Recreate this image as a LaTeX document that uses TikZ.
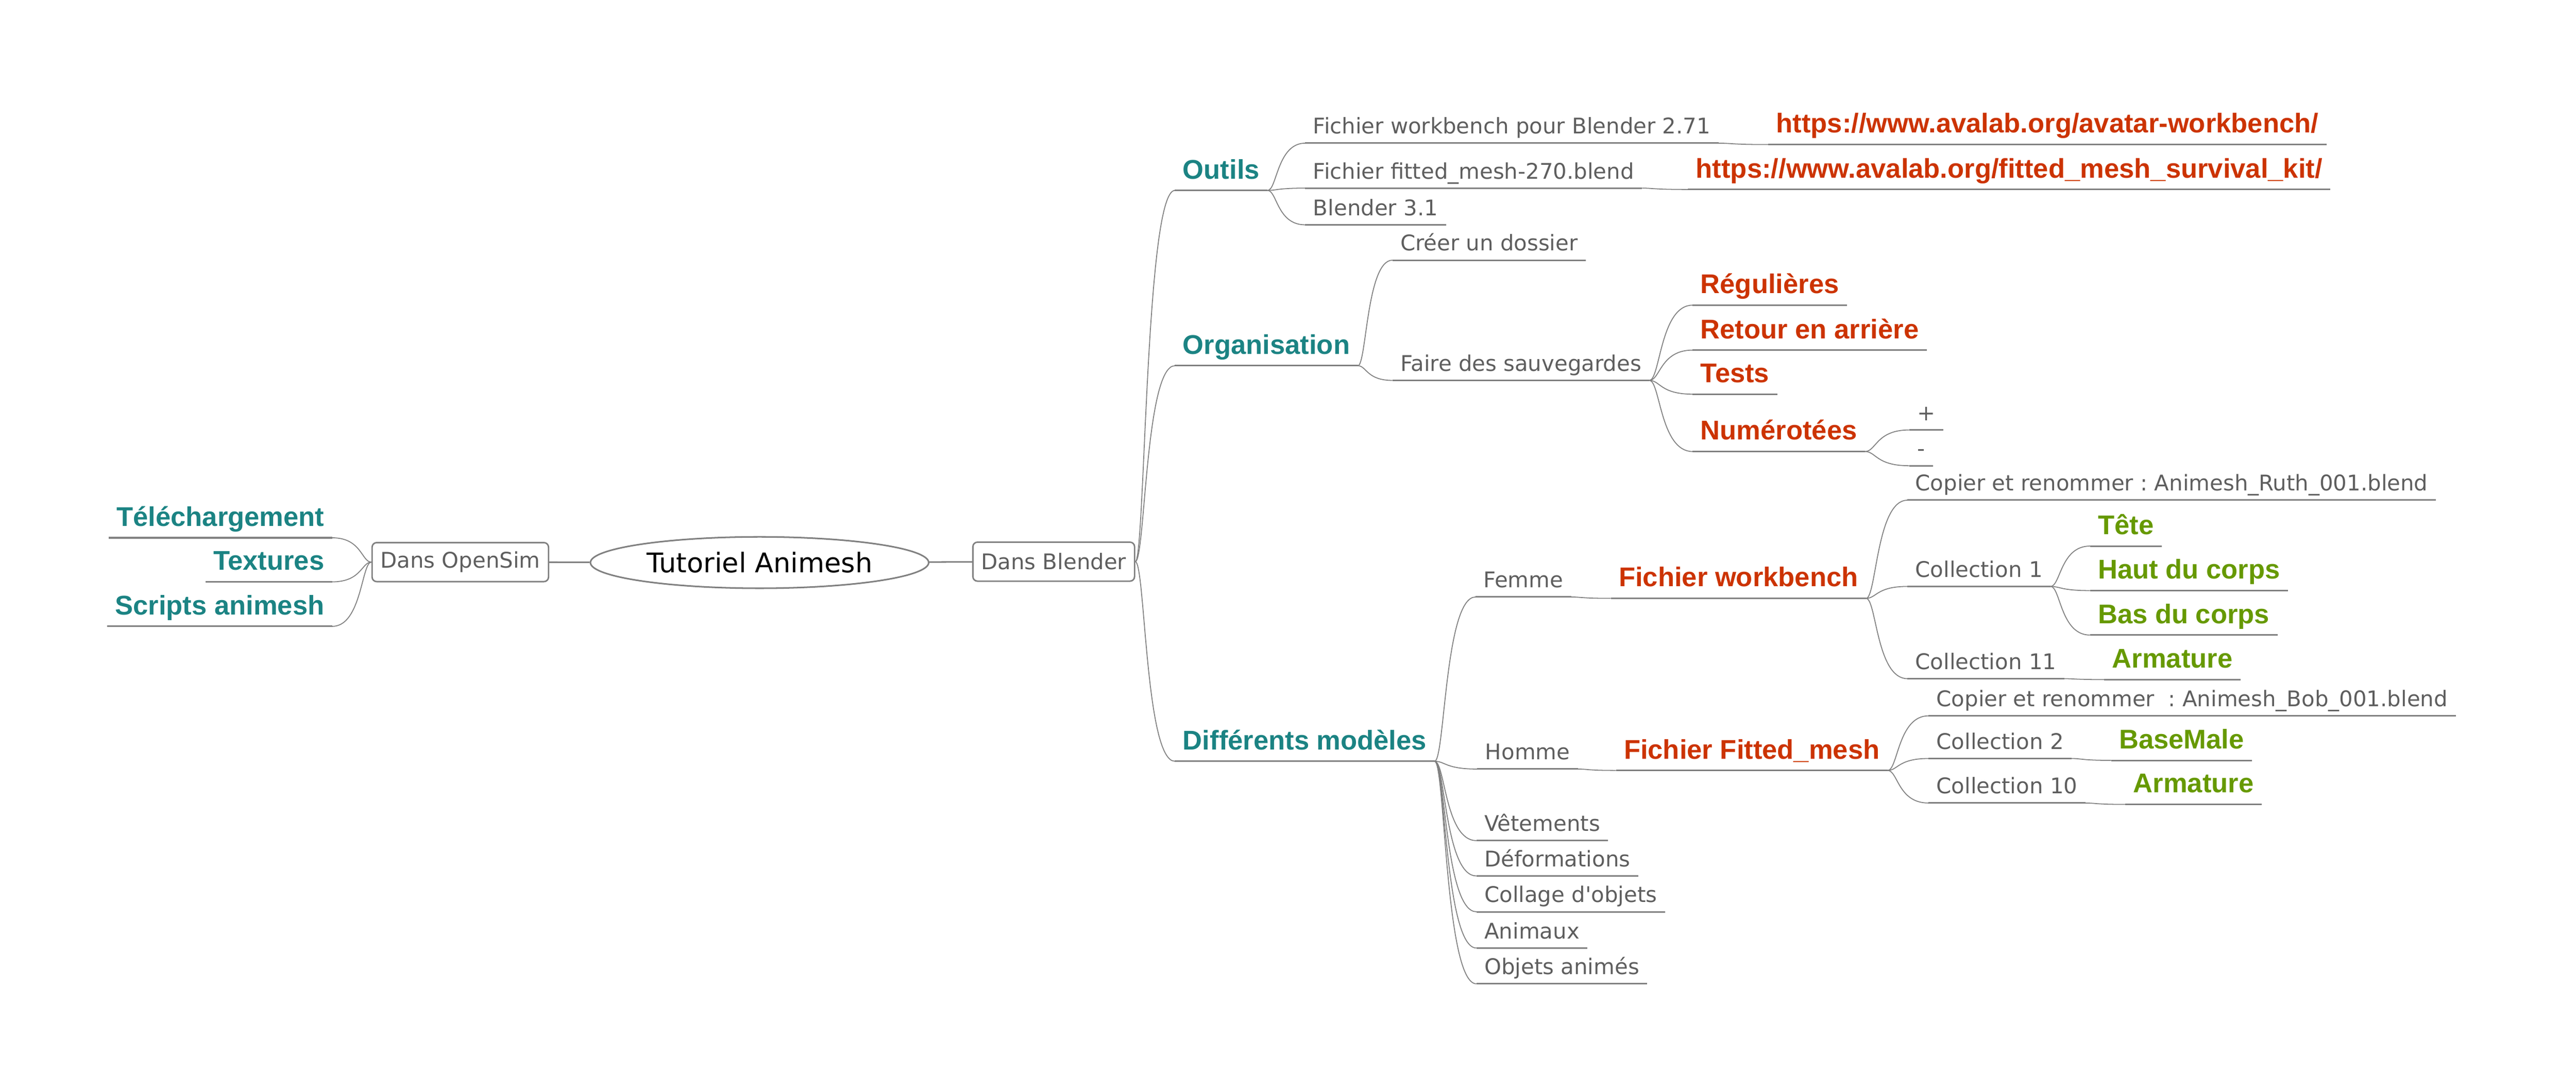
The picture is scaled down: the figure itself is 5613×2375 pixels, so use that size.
\documentclass[tikz,border=0pt]{standalone}
\usepackage{fontspec}
\setmainfont{DejaVu Sans}[Ligatures=TeXOff]
\newfontfamily\libsans{Liberation Sans}
\usetikzlibrary{calc,shapes.geometric}
\frenchspacing

\definecolor{linegray}{RGB}{128,128,128}
\definecolor{txtgray}{RGB}{94,94,94}
\definecolor{tealc}{RGB}{27,131,131}
\definecolor{redc}{RGB}{204,51,0}
\definecolor{greenc}{RGB}{102,153,0}

\tikzset{
  topic/.style={anchor=south west, inner xsep=8.5pt, inner ysep=10pt, text depth=0pt, text=txtgray, font=\fontsize{23.5}{28}\selectfont},
  boldsub/.style={topic, inner ysep=12.5pt, font=\libsans\bfseries\fontsize{29.5}{35}\selectfont},
  mainsub/.style={boldsub, text=tealc},
  redsub/.style={boldsub, text=redc},
  greensub/.style={boldsub, text=greenc},
  gbox/.style={draw=linegray, line width=1.6pt, rounded corners=5pt, minimum height=42.5pt, inner xsep=9pt, text=txtgray, font=\fontsize{23.5}{28}\selectfont},
  rootnode/.style={ellipse, draw=linegray, line width=1.7pt, minimum width=368.5pt, minimum height=56pt, inner sep=0pt, font=\fontsize{29.5}{35}\selectfont},
  uline/.style={draw=linegray, line width=1.7pt},
  link/.style={draw=linegray, line width=1.7pt},
  conn/.style={draw=linegray, line width=1pt},
  branch/.style={to path={.. controls ($(\tikztostart)!.25!(\tikztotarget|-\tikztostart)$) and ($(\tikztostart|-\tikztotarget)!.25!(\tikztotarget)$) .. (\tikztotarget)}}
}

\begin{document}
\begin{tikzpicture}[x=0.5pt,y=-0.5pt]
\useasboundingbox (0,0) rectangle (5613,2375);

\node [rootnode] (root) at (1655,1226) {Tutoriel Animesh};
\node [gbox] (opensim) at (1003,1225) {Dans OpenSim};
\node [gbox] (blender) at (2296,1224) {Dans Blender};

\node [mainsub, anchor=south east] (tele) at (724,1172) {Téléchargement};
\node [mainsub, anchor=south east] (tex) at (724,1268) {Textures};
\node [mainsub, anchor=south east] (scr) at (724,1365) {Scripts animesh};

\node [mainsub] (outils) at (2560,415) {Outils};
\node [mainsub] (org) at (2560,797) {Organisation};
\node [mainsub] (diff) at (2560,1659) {Différents modèles};

\node [topic] (owb) at (2844,312) {Fichier workbench pour Blender 2.71};
\node [redsub] (url1) at (3853,315) {https://www.avalab.org/avatar-workbench/};
\node [topic] (ofm) at (2844,410) {Fichier fitted\_mesh-270.blend};
\node [redsub] (url2) at (3678,413) {https://www.avalab.org/fitted\_mesh\_survival\_kit/};
\node [topic] (ob31) at (2844,490) {Blender 3.1};

\node [topic] (creer) at (3034,567) {Créer un dossier};
\node [topic] (faire) at (3034,829) {Faire des sauvegardes};
\node [redsub] (reg) at (3688,665) {Régulières};
\node [redsub] (retour) at (3688,763) {Retour en arrière};
\node [redsub] (tests) at (3688,859) {Tests};
\node [redsub] (num) at (3688,984) {Numérotées};
\node [topic] (plus) at (4160,937) {+};
\node [topic] (minus) at (4160,1015) {-};

\node [topic] (femme) at (3215,1301) {Femme};
\node [redsub] (fwb) at (3510,1304) {Fichier workbench};
\node [topic] (cr1) at (4156,1090) {Copier et renommer : Animesh\_Ruth\_001.blend};
\node [topic] (col1) at (4156,1278) {Collection 1};
\node [greensub] (tete) at (4554,1190) {Tête};
\node [greensub] (haut) at (4554,1287) {Haut du corps};
\node [greensub] (bas) at (4554,1384) {Bas du corps};
\node [topic] (col11) at (4156,1479) {Collection 11};
\node [greensub] (arm1) at (4585,1481) {Armature};

\node [topic] (homme) at (3219,1676) {Homme};
\node [redsub] (ffm) at (3521,1679) {Fichier Fitted\_mesh};
\node [topic] (cr2) at (4202,1560) {Copier et renommer\ \ : Animesh\_Bob\_001.blend};
\node [topic] (col2) at (4202,1653) {Collection 2};
\node [greensub] (bmale) at (4600,1657) {BaseMale};
\node [topic] (col10) at (4202,1750) {Collection 10};
\node [greensub] (arm2) at (4631,1753) {Armature};

\node [topic] (vet) at (3217,1832) {Vêtements};
\node [topic] (deform) at (3217,1909) {Déformations};
\node [topic] (colla) at (3217,1987) {Collage d'objets};
\node [topic] (anim) at (3217,2066) {Animaux};
\node [topic] (objan) at (3217,2144) {Objets animés};

\draw [link] (opensim) -- (root) (root) -- (blender);

\foreach \kid in {tele,tex,scr} \draw [conn] (opensim.west) to[branch] (\kid.south east);
\foreach \kid in {outils,org,diff} \draw [conn] (blender.east) to[branch] (\kid.south west);
\foreach \kid in {owb,ofm,ob31} \draw [conn] (outils.south east) to[branch] (\kid.south west);
\draw [conn] (owb.south east) to[branch] (url1.south west);
\draw [conn] (ofm.south east) to[branch] (url2.south west);
\foreach \kid in {creer,faire} \draw [conn] (org.south east) to[branch] (\kid.south west);
\foreach \kid in {reg,retour,tests,num} \draw [conn] (faire.south east) to[branch] (\kid.south west);
\foreach \kid in {plus,minus} \draw [conn] (num.south east) to[branch] (\kid.south west);
\foreach \kid in {femme,homme,vet,deform,colla,anim,objan} \draw [conn] (diff.south east) to[branch] (\kid.south west);
\draw [conn] (femme.south east) to[branch] (fwb.south west);
\foreach \kid in {cr1,col1,col11} \draw [conn] (fwb.south east) to[branch] (\kid.south west);
\foreach \kid in {tete,haut,bas} \draw [conn] (col1.south east) to[branch] (\kid.south west);
\draw [conn] (col11.south east) to[branch] (arm1.south west);
\draw [conn] (homme.south east) to[branch] (ffm.south west);
\foreach \kid in {cr2,col2,col10} \draw [conn] (ffm.south east) to[branch] (\kid.south west);
\draw [conn] (col2.south east) to[branch] (bmale.south west);
\draw [conn] (col10.south east) to[branch] (arm2.south west);

\foreach \nd in {tele,tex,scr,outils,org,diff,owb,url1,ofm,url2,ob31,creer,faire,reg,retour,tests,num,plus,minus,femme,fwb,cr1,col1,tete,haut,bas,col11,arm1,homme,ffm,cr2,col2,bmale,col10,arm2,vet,deform,colla,anim,objan}
  \draw [uline] (\nd.south west) -- (\nd.south east);
\end{tikzpicture}
\end{document}
